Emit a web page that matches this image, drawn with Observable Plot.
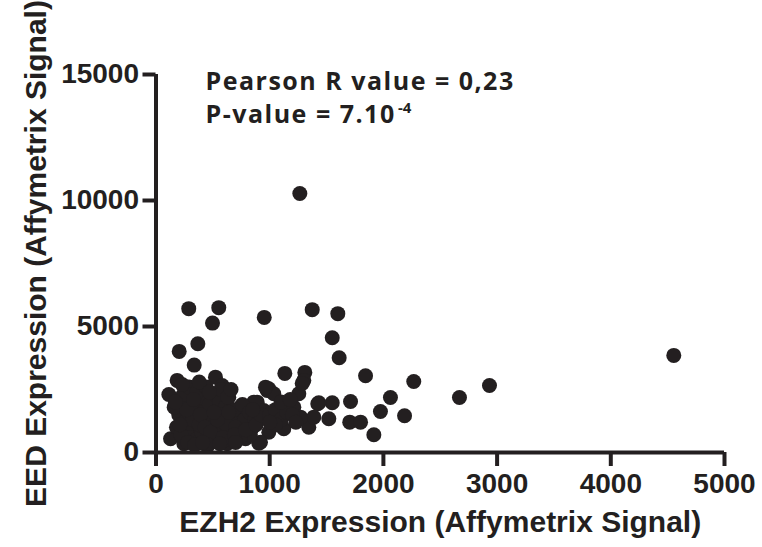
<!DOCTYPE html>
<html><head><meta charset="utf-8">
<script src="https://cdn.jsdelivr.net/npm/d3@7"></script>
<script src="https://cdn.jsdelivr.net/npm/@observablehq/plot@0.6"></script>
<style>body{margin:0;background:#fff} #chart{width:762px;height:547px}</style>
</head><body><div id="chart"></div>
<script>
// EZH2 (x) and EED (y) expression, Affymetrix signal
const ezh2 = [
  1265, 288, 552, 497, 952, 1374, 1599, 1550, 1611, 204, 368, 336, 1133, 1309, 1843,
  2062, 1974, 1916, 1711, 1704, 1799, 1550, 1432, 113, 904, 992, 1300, 890, 2267, 2186,
  2669, 2933, 4554, 1423, 1344, 1520, 1212, 1256, 1286, 978, 1036, 948, 1124, 992, 919,
  1139, 1388, 1271, 186, 523, 582, 640, 128, 245, 420, 626, 787, 860, 743, 332, 963,
  200, 250, 300, 350, 400, 450, 500, 550, 600, 650, 700, 750, 800, 850, 300, 350, 400,
  450, 500, 550, 600, 180, 220, 260, 320, 380, 420, 470, 520, 560, 610, 660, 720, 780,
  830, 240, 290, 360, 440, 490, 530, 580, 620, 680, 740, 160, 210, 270, 330, 390, 430,
  480, 540, 590, 640, 700, 760, 820, 870, 280, 340, 460, 510, 570, 630, 690, 790, 880,
  920, 1000, 1050, 1100, 1150, 1200, 1050, 1100, 1180, 1230, 1000, 170, 230, 380, 470,
  660, 410, 560, 700, 850
];
const eed = [
  10276, 5708, 5748, 5136, 5362, 5668, 5509, 4556, 3761, 4012, 4318, 3468, 3138, 3178, 3047,
  2184, 1628, 703, 2026, 1204, 1204, 1974, 1974, 2304, 369, 2530, 2860, 1998, 2820, 1458,
  2185, 2661, 3853, 1934, 1004, 1339, 1799, 2332, 2741, 2463, 2332, 1668, 941, 806, 409,
  1799, 1402, 1402, 2860, 2991, 2661, 2197, 544, 345, 345, 345, 544, 1998, 1799, 2530, 2594,
  1500, 1200, 900, 1800, 2200, 1400, 1000, 1700, 1300, 900, 1500, 1100, 1400, 1000, 600, 500, 800,
  600, 450, 700, 500, 1000, 700, 2000, 1300, 1100, 1600, 1900, 2300, 2000, 1800, 1200, 800, 1300,
  700, 2300, 2600, 2400, 2600, 1200, 900, 1500, 1100, 1700, 600, 1800, 1100, 1700, 2100, 1500, 1000,
  800, 1300, 600, 1600, 1000, 1900, 1600, 1300, 400, 300, 300, 1600, 2500, 2200, 700, 900, 1100,
  1500, 1500, 1700, 1300, 1600, 1500, 1100, 2000, 2100, 1200, 1200, 2000, 2700, 2800, 2400,
  2500, 400, 350, 400, 1700
];
const xTicks = [0, 1000, 2000, 3000, 4000, 5000];
const yTicks = [0, 5000, 10000, 15000];
const xTitle = "EZH2 Expression (Affymetrix Signal)";
const yTitle = "EED Expression (Affymetrix Signal)";
const statLine1 = "Pearson R value = 0,23";
const statLine2 = "P-value = 7.10";
const statExp = "-4";

const data = ezh2.map((x, i) => ({x, y: eed[i]}));
const ink = "#231f20";
const axisFont = "'Liberation Sans', Arial, sans-serif";
const noteFont = "'Open Sans', Lato, sans-serif";

const chart = Plot.plot({
  width: 762, height: 547,
  marginLeft: 155.5, marginRight: 38, marginTop: 74, marginBottom: 95,
  x: {domain: [0, 5000]},
  y: {domain: [0, 15000]},
  style: {fontFamily: axisFont, color: ink, background: "#fff", overflow: "visible"},
  marks: [
    Plot.dot(data, {x: "x", y: "y", r: 7.5, fill: ink, stroke: "none"}),
    Plot.ruleY([0], {stroke: ink, strokeWidth: 4}),
    Plot.ruleX([0], {stroke: ink, strokeWidth: 4}),
    Plot.axisX({ticks: xTicks, tickSize: 14, tickPadding: 7, stroke: ink, strokeWidth: 4,
      fontSize: 28, fontWeight: "bold", fill: ink, label: null, tickFormat: d => String(d)}),
    Plot.axisY({ticks: yTicks, tickSize: 13, tickPadding: 4, stroke: ink, strokeWidth: 4,
      fontSize: 28, fontWeight: "bold", fill: ink, label: null, tickFormat: d => String(d)}),
    Plot.text([xTitle], {frameAnchor: "bottom", dy: 70, fontSize: 30, fontWeight: "bold",
      fill: ink, lineAnchor: "middle", textAnchor: "middle"}),
    Plot.text([yTitle], {frameAnchor: "left", rotate: -90, dx: -120, dy: -10, fontSize: 30,
      fontWeight: "bold", fill: ink, lineAnchor: "middle", textAnchor: "middle"}),
    Plot.text([statLine1], {frameAnchor: "top-left", dx: 49.5, dy: 7, textAnchor: "start",
      lineAnchor: "middle", fontSize: 25, fontWeight: "bold", fill: ink, fontFamily: noteFont}),
    Plot.text([statLine2], {frameAnchor: "top-left", dx: 49.5, dy: 40, textAnchor: "start",
      lineAnchor: "middle", fontSize: 25, fontWeight: "bold", fill: ink, fontFamily: noteFont}),
    Plot.text([statExp], {frameAnchor: "top-left", dx: 242, dy: 34, textAnchor: "start",
      lineAnchor: "middle", fontSize: 15, fontWeight: "bold", fill: ink, fontFamily: noteFont})
  ]
});
// widen the annotation letter spacing to match the reference lettering
d3.select(chart).selectAll("text")
  .filter(function() { const t = this.textContent; return t === statLine1 || t === statLine2; })
  .attr("letter-spacing", 1.5);
document.getElementById("chart").append(chart);
</script>
</body></html>
